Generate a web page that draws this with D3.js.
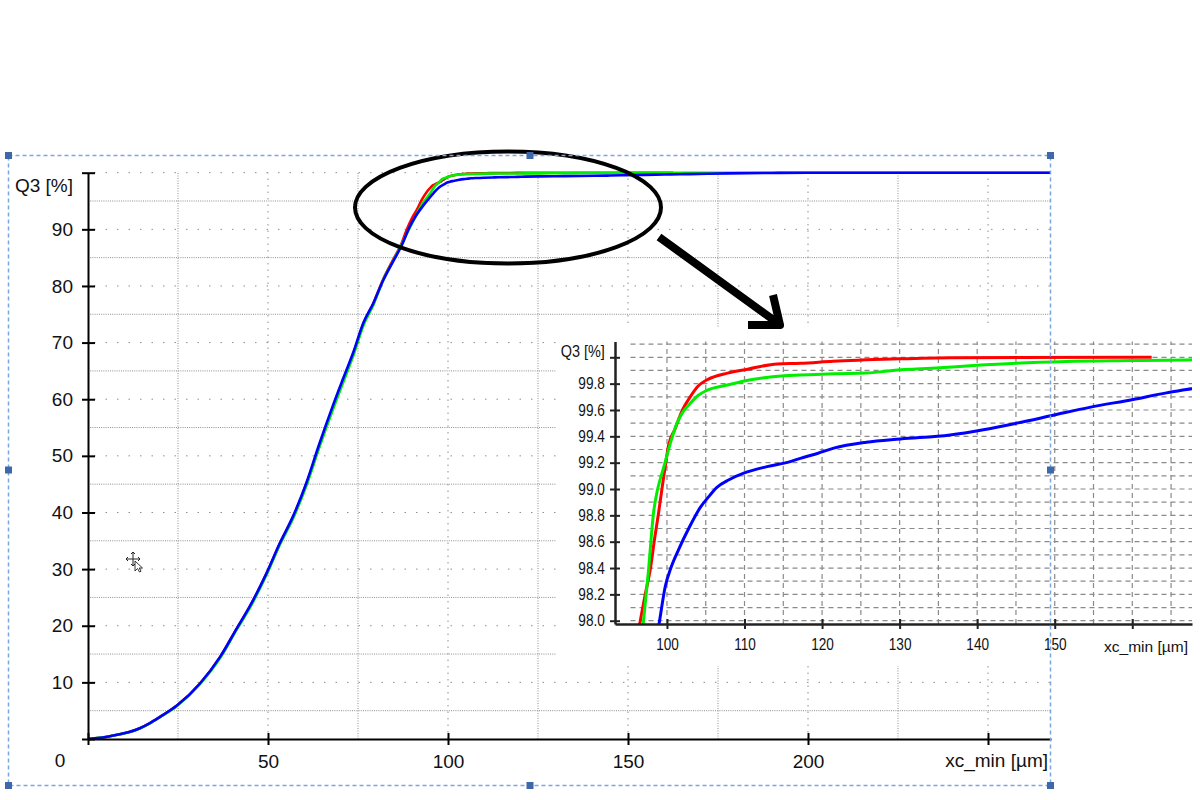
<!DOCTYPE html>
<html>
<head>
<meta charset="utf-8">
<script src="https://cdn.jsdelivr.net/npm/d3@7"></script>
<style>
  html, body { margin: 0; padding: 0; background: #fff; }
  svg { display: block; font-family: "Liberation Sans", Arial, sans-serif; }
</style>
</head>
<body>
<svg id="chart" width="1200" height="800"></svg>
<script>
// Q3 cumulative curves (xc_min in um vs Q3 in %), three runs; the inset zooms the top part

var redX = [0, 6.1, 14.4, 17.2, 20, 24.7, 31.1, 36.7, 41.3, 45, 49.6, 53.3, 57, 60.7, 64.2, 68.1, 70.9, 73.7, 76.5, 79.3, 82, 84.8, 87.1, 88.5, 90, 91.3, 92.7, 94.1, 95.2, 95.9, 96.56, 97.2, 97.85, 98.4, 98.92, 99.4, 99.8, 100.2, 101, 102, 103, 104, 105.2, 107.8, 110.4, 114.2, 117.2, 121.4, 129.1, 136.7, 162.5];
var redQ3 = [0, 0.5, 1.9, 2.8, 3.9, 5.9, 9.8, 14.5, 19.5, 23.4, 29.2, 34.5, 39.2, 45.1, 51.6, 58.6, 63.3, 68.0, 73.3, 77.0, 81.2, 84.7, 87.5, 89.9, 92.0, 93.4, 95.2, 96.6, 97.4, 97.8, 98.0, 98.2, 98.39, 98.62, 98.82, 99.02, 99.18, 99.33, 99.45, 99.6, 99.7, 99.78, 99.83, 99.88, 99.91, 99.95, 99.955, 99.97, 99.987, 99.997, 100];

var greenX = [0, 6.1, 14.4, 17.2, 20, 24.7, 31.1, 36.7, 41.3, 45, 49.6, 53.3, 57, 60.7, 64.2, 68.1, 70.9, 73.7, 76.5, 79.3, 82, 84.8, 87.1, 89, 91, 93, 95, 96.2, 96.98, 97.63, 98.27, 98.8, 99.36, 99.7, 100.5, 101.3, 102, 103, 104, 105.2, 107.8, 110.8, 115.1, 117.2, 121.6, 125.7, 129.1, 135.2, 139.5, 145, 151.5, 160, 167, 178, 267.5];
var greenQ3 = [0, 0.5, 1.85, 2.75, 3.85, 5.85, 9.7, 14.3, 19.3, 23.2, 29.0, 34.3, 39.0, 44.8, 51.4, 58.3, 63.0, 67.7, 73.0, 76.7, 81.0, 84.5, 87.3, 89.8, 92.3, 94.6, 96.3, 97.5, 98.0, 98.39, 98.82, 99.0, 99.12, 99.19, 99.36, 99.5, 99.58, 99.65, 99.71, 99.75, 99.79, 99.83, 99.86, 99.865, 99.875, 99.88, 99.9, 99.92, 99.937, 99.955, 99.968, 99.975, 99.98, 100, 100];

var blueX = [0, 6.1, 14.4, 17.2, 20, 24.7, 31.1, 36.7, 41.3, 45, 49.6, 53.3, 57, 60.7, 64.2, 68.1, 70.9, 73.7, 76.5, 79.3, 82, 84.8, 87.1, 89.4, 91, 93, 94.5, 96, 97.5, 99.05, 99.78, 100.5, 101.5, 102.8, 104.3, 105.5, 106.4, 108, 109.9, 112.9, 116, 117.2, 119.4, 121.5, 125.7, 130.1, 136.5, 140.8, 145.1, 149.8, 154.5, 160.1, 164.4, 167, 178, 190, 200, 267.5];
var blueQ3 = [0, 0.5, 1.9, 2.8, 3.9, 5.9, 9.8, 14.5, 19.5, 23.5, 29.3, 34.6, 39.4, 45.3, 52.0, 59.0, 63.7, 68.3, 73.5, 77.0, 81.0, 84.4, 87.1, 90.5, 92.3, 94.1, 95.3, 96.4, 97.4, 98.0, 98.26, 98.4, 98.54, 98.7, 98.86, 98.95, 99.01, 99.07, 99.12, 99.17, 99.21, 99.233, 99.27, 99.31, 99.355, 99.38, 99.41, 99.45, 99.50, 99.56, 99.62, 99.68, 99.73, 99.755, 99.88, 99.96, 100, 100];

var mainXTicks = [0, 50, 100, 150, 200, 250];
var mainYTicks = [0, 10, 20, 30, 40, 50, 60, 70, 80, 90, 100];
var insetXTicks = [100, 110, 120, 130, 140, 150, 160];
var insetYTicks = [98.0, 98.2, 98.4, 98.6, 98.8, 99.0, 99.2, 99.4, 99.6, 99.8, 100.0];

var xLabel = "xc_min [µm]";
var yLabel = "Q3 [%]";

var series = [
  { name: "rot", color: "#ff0000", x: redX, y: redQ3 },
  { name: "grün", color: "#00ee00", x: greenX, y: greenQ3 },
  { name: "blau", color: "#0000ff", x: blueX, y: blueQ3 }
];

var svg = d3.select("#chart");

function puntos(s) {
  return s.x.map(function (v, i) { return [v, s.y[i]]; });
}

// ---------- main chart ----------
var x = d3.scaleLinear().domain([0, 267.5]).range([88, 1051]);
var y = d3.scaleLinear().domain([0, 100]).range([739, 172.7]);

var grid = svg.append("g");
// fine dotted lines at the 5s, sparse dots at the 10s
d3.range(5, 100, 10).forEach(function (v) {
  grid.append("line")
    .attr("x1", x(0)).attr("x2", x(267.5))
    .attr("y1", y(v)).attr("y2", y(v))
    .attr("stroke", "#8e8e8e").attr("stroke-width", 1)
    .attr("stroke-dasharray", "1,1.2");
});
d3.range(10, 101, 10).forEach(function (v) {
  grid.append("line")
    .attr("x1", x(0) + 6).attr("x2", x(267.5))
    .attr("y1", y(v)).attr("y2", y(v))
    .attr("stroke", "#8e8e8e").attr("stroke-width", 1)
    .attr("stroke-dasharray", "1.5,10");
});
d3.range(25, 267, 25).forEach(function (v) {
  grid.append("line")
    .attr("x1", x(v)).attr("x2", x(v))
    .attr("y1", y(0)).attr("y2", y(100))
    .attr("stroke", "#8e8e8e").attr("stroke-width", 1)
    .attr("stroke-dasharray", (v % 50 === 0) ? "1.5,5" : "1,1.5");
});

var linea = d3.line()
  .curve(d3.curveMonotoneX)
  .x(function (d) { return x(d[0]); })
  .y(function (d) { return y(d[1]); });

series.forEach(function (s) {
  svg.append("path")
    .datum(puntos(s))
    .attr("fill", "none")
    .attr("stroke", s.color)
    .attr("stroke-width", 2.6)
    .attr("stroke-linejoin", "round")
    .attr("d", linea);
});

var ax = svg.append("g")
  .attr("transform", "translate(0," + y(0) + ")")
  .call(d3.axisBottom(x).tickValues(mainXTicks).tickSize(6).tickSizeOuter(0).tickPadding(10)
    .tickFormat(function (d) { return (d === 0 || d === 250) ? "" : d; }));
ax.select(".domain").attr("stroke", "#000").attr("stroke-width", 2);
ax.selectAll(".tick line").attr("y1", -6).attr("stroke", "#000").attr("stroke-width", 2);
ax.selectAll(".tick text").attr("font-size", 19).attr("fill", "#111");

var ay = svg.append("g")
  .attr("transform", "translate(" + x(0) + ",0)")
  .call(d3.axisLeft(y).tickValues(mainYTicks).tickSize(6).tickSizeOuter(0).tickPadding(9)
    .tickFormat(function (d) { return (d === 0 || d === 100) ? "" : d; }));
ay.select(".domain").attr("stroke", "#000").attr("stroke-width", 2);
ay.selectAll(".tick line").attr("x1", 7).attr("stroke", "#000").attr("stroke-width", 2);
ay.selectAll(".tick text").attr("font-size", 19).attr("fill", "#111");

svg.append("text").attr("x", 60).attr("y", 767).attr("text-anchor", "middle")
  .attr("font-size", 19).attr("fill", "#111").text("0");
svg.append("text").attr("x", 73).attr("y", 192).attr("text-anchor", "end")
  .attr("font-size", 19).attr("fill", "#111").text(yLabel);
svg.append("text").attr("x", 1048).attr("y", 767).attr("text-anchor", "end")
  .attr("font-size", 19).attr("fill", "#111").text(xLabel);

// ---------- inset (zoom of the top) ----------
var xi = d3.scaleLinear().domain([93.3, 167.7]).range([615, 1192]);
var yi = d3.scaleLinear().domain([97.975, 100.12]).range([624, 341.5]);

svg.append("rect")
  .attr("x", 556).attr("y", 328).attr("width", 644).attr("height", 338)
  .attr("fill", "#fff");

var gi = svg.append("g");
d3.range(0, 22).forEach(function (i) {
  var v = 98 + i * 0.1;
  gi.append("line")
    .attr("x1", xi(95.3)).attr("x2", xi(167.7))
    .attr("y1", yi(v)).attr("y2", yi(v))
    .attr("stroke", "#8a8a8a").attr("stroke-width", 1.2)
    .attr("stroke-dasharray", "5,4");
});
d3.range(100, 167, 5).forEach(function (v) {
  gi.append("line")
    .attr("x1", xi(v)).attr("x2", xi(v))
    .attr("y1", yi(97.975)).attr("y2", yi(100.12))
    .attr("stroke", "#8a8a8a").attr("stroke-width", 1.2)
    .attr("stroke-dasharray", "5,4");
});

svg.append("clipPath").attr("id", "recorte")
  .append("rect")
  .attr("x", xi(93.3)).attr("y", yi(100.12))
  .attr("width", xi(167.7) - xi(93.3)).attr("height", yi(97.975) - yi(100.12));

var lineaI = d3.line()
  .curve(d3.curveMonotoneX)
  .x(function (d) { return xi(d[0]); })
  .y(function (d) { return yi(d[1]); });

var curvasI = svg.append("g").attr("clip-path", "url(#recorte)");
series.forEach(function (s) {
  curvasI.append("path")
    .datum(puntos(s))
    .attr("fill", "none")
    .attr("stroke", s.color)
    .attr("stroke-width", 3)
    .attr("stroke-linejoin", "round")
    .attr("d", lineaI);
});

var axi = svg.append("g")
  .attr("transform", "translate(0," + yi(97.975) + ")")
  .call(d3.axisBottom(xi).tickValues(insetXTicks).tickSize(5).tickSizeOuter(0).tickPadding(10)
    .tickFormat(function (d) { return d === 160 ? "" : d; }));
axi.select(".domain").attr("stroke", "#222").attr("stroke-width", 2.5);
axi.selectAll(".tick line").attr("y1", -5).attr("stroke", "#222").attr("stroke-width", 2);
axi.selectAll(".tick text").attr("font-size", 16).attr("fill", "#111")
  .attr("transform", "scale(0.85,1)");

var ayi = svg.append("g")
  .attr("transform", "translate(" + xi(93.3) + ",0)")
  .call(d3.axisLeft(yi).tickValues(insetYTicks).tickSize(5).tickSizeOuter(0).tickPadding(7)
    .tickFormat(function (d) { return d >= 99.99 ? yLabel : d3.format(".1f")(d); }));
ayi.select(".domain").attr("stroke", "#222").attr("stroke-width", 2.5);
ayi.selectAll(".tick line").attr("x1", 5).attr("stroke", "#222").attr("stroke-width", 2);
ayi.selectAll(".tick text").attr("font-size", 16).attr("fill", "#111")
  .attr("transform", "scale(0.85,1)");
ayi.selectAll(".tick text").filter(function (d) { return d >= 99.99; })
  .attr("dy", "-0.05em").attr("font-size", 17);

svg.append("text").attr("x", 1188).attr("y", 652).attr("text-anchor", "end")
  .attr("font-size", 15).attr("fill", "#111")
  .attr("textLength", 84).attr("lengthAdjust", "spacingAndGlyphs")
  .text(xLabel);

// ---------- annotations: ellipse and arrow ----------
svg.append("ellipse")
  .attr("cx", 508).attr("cy", 207.5).attr("rx", 153).attr("ry", 56)
  .attr("fill", "none").attr("stroke", "#000").attr("stroke-width", 4);

svg.append("path")
  .attr("d", "M659,237 L779,324 M773,295 L780,325 L748,325")
  .attr("fill", "none").attr("stroke", "#000").attr("stroke-width", 8)
  .attr("stroke-linejoin", "round");

// mouse pointer (move cursor) left in the screenshot
var cur = svg.append("g").attr("transform", "translate(133,559)");
cur.append("path")
  .attr("d", "M0,-7 L0,7 M-7,0 L7,0 M-2,-5 L0,-7 L2,-5 M-2,5 L0,7 L2,5 M-5,-2 L-7,0 L-5,2 M5,-2 L7,0 L5,2")
  .attr("fill", "none").attr("stroke", "#222").attr("stroke-width", 1);
cur.append("path")
  .attr("d", "M2,2 L2,12 L4.5,9.5 L6.5,13 L8,12.3 L6.2,9 L9.5,9 Z")
  .attr("fill", "#fff").attr("stroke", "#222").attr("stroke-width", 0.9);

// ---------- selection frame of the chart object ----------
svg.append("rect")
  .attr("x", 8.5).attr("y", 155.5).attr("width", 1042).attr("height", 630)
  .attr("fill", "none").attr("stroke", "#79a7e3").attr("stroke-width", 1.5)
  .attr("stroke-dasharray", "4,3");

var manijas = [[8.5, 155.5], [530, 155.5], [1050.5, 155.5], [8.5, 470], [1050.5, 470], [8.5, 785.5], [530, 785.5], [1050.5, 785.5]];
svg.append("g").selectAll("rect")
  .data(manijas)
  .enter().append("rect")
  .attr("x", function (d) { return d[0] - 3.5; })
  .attr("y", function (d) { return d[1] - 3.5; })
  .attr("width", 7).attr("height", 7)
  .attr("fill", "#3f68aa");
</script>
</body>
</html>
